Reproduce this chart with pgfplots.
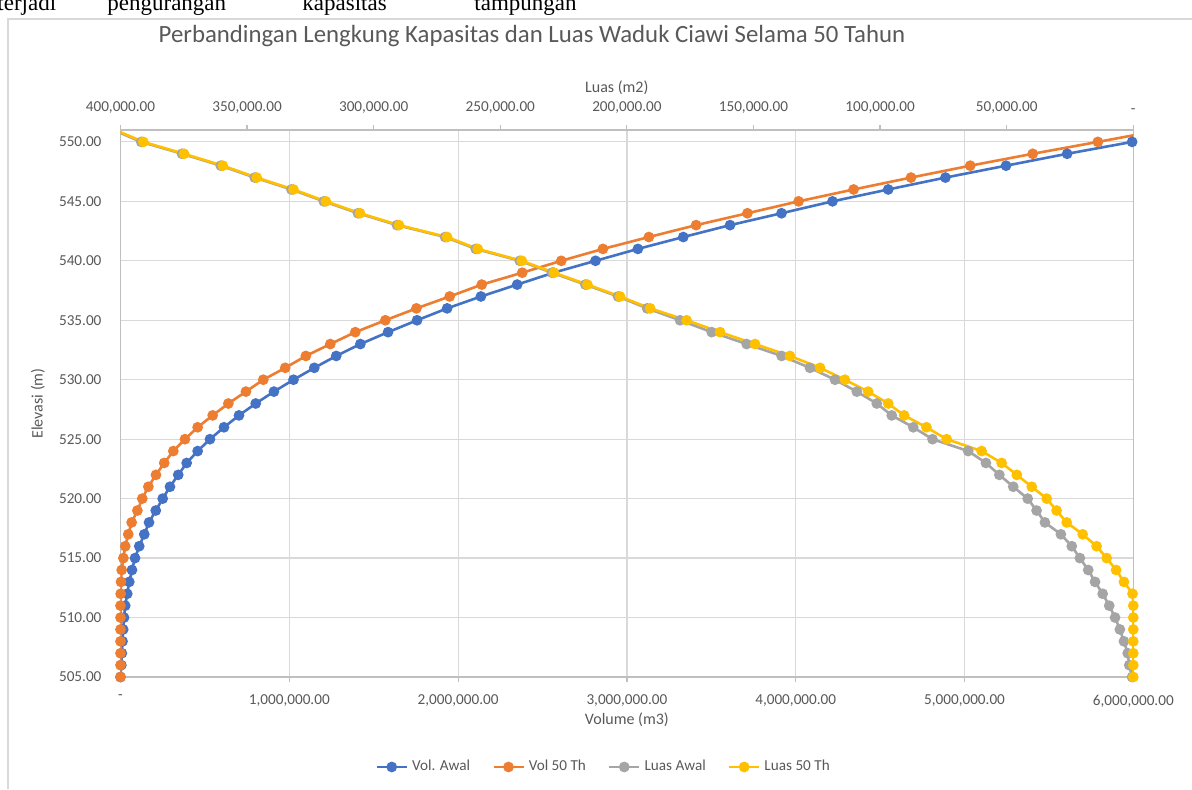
\documentclass[border=0pt]{standalone}
\usepackage{fontspec}
\setmainfont{Carlito}
\newfontfamily\seriffont{Liberation Serif}
\usepackage{pgfplots}
\pgfplotsset{compat=1.18}
\usepackage{pgfplotstable}
\definecolor{cblue}{HTML}{4472C4}
\definecolor{corange}{HTML}{ED7D31}
\definecolor{cgray}{HTML}{A5A5A5}
\definecolor{cyellow}{HTML}{FFC000}
\definecolor{ctext}{HTML}{595959}
\definecolor{cgrid}{HTML}{D9D9D9}
\definecolor{caxis}{HTML}{BFBFBF}

\pgfplotstableread{
E VA V50 LA L50
505 0 0 500 0
506 5000 0 1600 0
507 8000 0 2200 0
508 12000 0 3700 0
509 16000 0 5300 0
510 21000 0 7200 0
511 28000 0 9500 0
512 40000 1000 12100 300
513 52000 3000 15100 3700
514 68000 7000 17800 6800
515 86000 17000 21100 10500
516 111000 28000 24300 14500
517 141000 46000 28600 20000
518 169000 66000 34900 26300
519 209000 100000 38200 30300
520 250000 129000 41700 34200
521 293000 165000 47400 40100
522 342000 210000 52900 46000
523 392000 259000 58200 52000
524 457000 313000 65200 59900
525 530000 382000 79300 73700
526 613000 457000 86900 81700
527 702000 546000 95400 90500
528 801000 639000 101300 96800
529 909000 743000 109200 104700
530 1025000 846000 117800 113900
531 1148000 976000 127700 123700
532 1278000 1098000 138900 135600
533 1421000 1243000 152700 149400
534 1585000 1391000 166500 163200
535 1757000 1569000 179000 176400
536 1935000 1753000 192000 190800
537 2135000 1950000 203500 202700
538 2350000 2140000 216400 215600
539 2565000 2380000 229600 228800
540 2814000 2611000 242300 241500
541 3065000 2858000 259700 258900
542 3334000 3130000 271800 271000
543 3611000 3410000 290800 290000
544 3916000 3714000 306200 305400
545 4218000 4017000 319700 318900
546 4548000 4343000 332500 331700
547 4887000 4683000 347000 346200
548 5246000 5034000 360400 359600
549 5608000 5404000 375700 374900
550 5993000 5790000 391800 391000
551 6380000 6170000 402800 402000
}\data

\pgfplotsset{
  common/.style={
    at={(60.25pt,56pt)}, anchor=south west, scale only axis,
    width=506.4pt, height=273.5pt,
    ymin=505, ymax=551,
    axis line style={caxis, line width=0.6pt},
    tick style={caxis, line width=0.6pt},
    major tick length=2.5pt, tick align=outside,
    ticklabel style={font=\fontsize{7.6}{9}\selectfont, text=ctext},
    label style={font=\fontsize{8}{9.6}\selectfont, text=ctext},
    /pgf/number format/assume math mode=true,
    scaled x ticks=false, scaled y ticks=false,
  },
  ser/.style={#1, line width=1.3pt, mark=*, mark size=2pt, mark options={solid, fill=#1, draw=#1}},
}

\begin{document}
\begin{tikzpicture}
\useasboundingbox (0pt,0pt) rectangle (596pt,394.5pt);
\fill[white] (0pt,0pt) rectangle (596pt,394.5pt);
\draw[cgrid, line width=0.7pt] (4pt,0pt) -- (4pt,385pt) -- (596pt,385pt);
\begin{scope}[font=\seriffont\fontsize{11.5}{12}\selectfont]
\node[anchor=base west, inner sep=0pt] at (-1.5pt,389pt) {terjadi};
\node[anchor=base west, inner sep=0pt] at (53.5pt,389pt) {pengurangan};
\node[anchor=base west, inner sep=0pt] at (151pt,389pt) {kapasitas};
\node[anchor=base west, inner sep=0pt] at (237pt,389pt) {tampungan};
\end{scope}
\node[font=\fontsize{12.4}{14}\selectfont, text=ctext] at (266pt,376.5pt) {Perbandingan Lengkung Kapasitas dan Luas Waduk Ciawi Selama 50 Tahun};

\begin{axis}[common, name=main,
  xmin=0, xmax=6000000,
  xtick pos=lower, ytick pos=left,
  grid=major, major grid style={cgrid, line width=0.6pt},
  xtick={0,1000000,2000000,3000000,4000000,5000000,6000000},
  xticklabels={{-},{1,000,000.00},{2,000,000.00},{3,000,000.00},{4,000,000.00},{5,000,000.00},{6,000,000.00}},
  xticklabel style={yshift=-3pt},
  ytick={505,510,...,550},
  ytick style={draw=none},
  yticklabel style={xshift=-3.5pt, /pgf/number format/.cd, fixed, fixed zerofill, precision=2},
  xlabel={Volume (m3)},
  xlabel style={at={(axis description cs:0.5,-0.079)}, anchor=center},
  ylabel={Elevasi (m)},
  ylabel style={at={(axis description cs:-0.0815,0.5)}, anchor=center},
]
\addplot[ser=cblue] table[x=VA, y=E] {\data};
\addplot[ser=corange] table[x=V50, y=E] {\data};
\end{axis}

\begin{axis}[common,
  xmin=0, xmax=400000, x dir=reverse,
  axis x line*=top, hide y axis,
  xtick={0,50000,100000,150000,200000,250000,300000,350000,400000},
  xticklabels={{-},{50,000.00},{100,000.00},{150,000.00},{200,000.00},{250,000.00},{300,000.00},{350,000.00},{400,000.00}},
  xticklabel style={yshift=2pt},
  xlabel={Luas (m2)},
  xlabel style={at={(axis description cs:0.49,1.077)}, anchor=center},
  legend columns=4,
  legend style={at={(axis description cs:0.478,-0.1645)}, anchor=center, draw=none, fill=none,
    font=\fontsize{7.6}{9}\selectfont, text=ctext,
    /tikz/every even column/.append style={column sep=9pt}},
  legend image code/.code={\draw[mark repeat=2,mark phase=2] plot coordinates {(0pt,0pt) (7.5pt,0pt) (15pt,0pt)};},
]
\addlegendimage{ser=cblue}
\addlegendentry{Vol. Awal}
\addlegendimage{ser=corange}
\addlegendentry{Vol 50 Th}
\addplot[ser=cgray] table[x=LA, y=E] {\data};
\addlegendentry{Luas Awal}
\addplot[ser=cyellow] table[x=L50, y=E] {\data};
\addlegendentry{Luas 50 Th}
\end{axis}
\end{tikzpicture}
\end{document}
